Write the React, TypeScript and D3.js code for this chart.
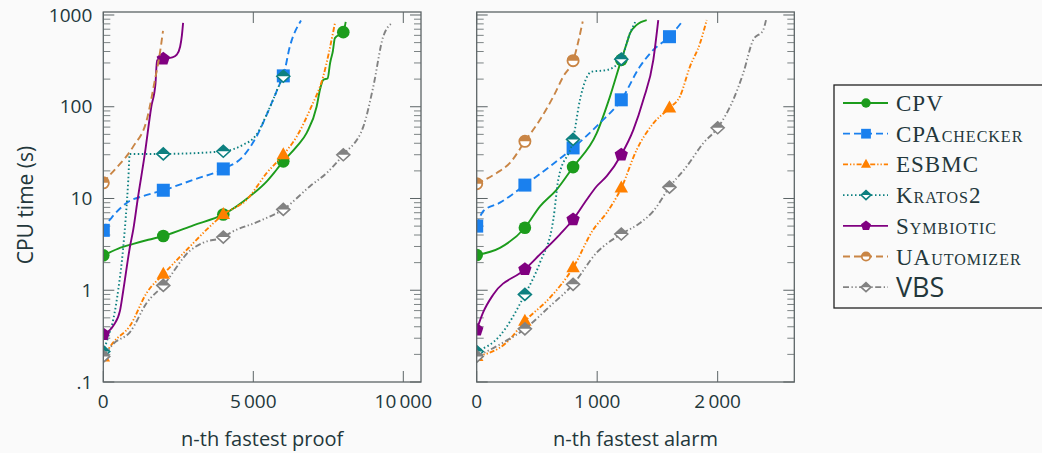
import React from 'react'
import * as d3 from 'd3'

type Pt = [number, number]

// n-th fastest proof (left panel): [n, CPU time in s]
const proofCPV: Pt[] = [[0, 2.4], [500, 2.85], [1000, 3.2], [1500, 3.55], [2000, 3.9], [3000, 5.1], [4000, 6.7], [4890, 10.6], [5450, 15.4], [5780, 20.7], [6000, 25.4], [6450, 37], [6780, 52], [7110, 100], [7220, 152], [7330, 196], [7480, 205], [7560, 300], [7650, 400], [7720, 560], [8000, 650], [8080, 840]]
const proofCPAchecker: Pt[] = [[0, 4.5], [100, 5.2], [280, 6.2], [790, 9], [1400, 10.8], [2000, 12.3], [3000, 16], [4000, 21], [4670, 29], [5110, 47.5], [5560, 100], [5890, 180], [6000, 217], [6220, 455], [6590, 870]]
const proofESBMC: Pt[] = [[0, 0.187], [333, 0.27], [890, 0.41], [1450, 0.94], [2000, 1.49], [2890, 3.0], [3450, 4.6], [4000, 6.7], [4780, 9.7], [5450, 19], [6000, 30], [6450, 47.5], [6890, 93], [7330, 214], [7720, 810]]
const proofKratos2: Pt[] = [[0, 0.215], [150, 0.3], [333, 0.48], [500, 1.02], [667, 3.0], [833, 16], [880, 30.5], [2000, 30.6], [4000, 32.7], [4670, 38.6], [5060, 47.5], [5560, 100], [5890, 180], [6000, 215]]
const proofSymbiotic: Pt[] = [[0, 0.33], [333, 0.41], [557, 0.6], [667, 1.0], [890, 3.0], [1000, 4.6], [1150, 10], [1380, 30], [1600, 100], [1740, 180], [1790, 320], [2000, 333], [2300, 345], [2450, 370], [2560, 450], [2620, 600], [2660, 820]]
const proofUAutomizer: Pt[] = [[0, 14.8], [150, 17], [333, 19.8], [1000, 37], [1450, 72], [1720, 196], [1870, 355], [1990, 670]]
const proofVBS: Pt[] = [[0, 0.19], [333, 0.26], [890, 0.35], [1450, 0.73], [2000, 1.13], [2890, 2.7], [3330, 3.3], [4000, 3.8], [4220, 4.2], [5220, 5.7], [6000, 7.6], [6890, 13.6], [7450, 19], [8000, 30], [8670, 61], [9000, 166], [9330, 580], [9650, 830]]

// n-th fastest alarm (right panel)
const alarmCPV: Pt[] = [[0, 2.42], [193, 2.9], [400, 4.8], [525, 8.2], [664, 12.5], [800, 22], [996, 51.6], [1106, 129], [1200, 324], [1245, 490], [1272, 630], [1328, 780], [1411, 880]]
const alarmCPAchecker: Pt[] = [[0, 5.0], [55, 7.3], [193, 9], [400, 14], [608, 22.4], [800, 35.6], [1023, 66.6], [1200, 119], [1355, 274], [1466, 417], [1600, 580], [1715, 880]]
const alarmESBMC: Pt[] = [[0, 0.19], [249, 0.27], [400, 0.46], [608, 0.83], [800, 1.76], [968, 4.6], [1079, 7], [1200, 13], [1328, 34], [1466, 66], [1600, 97], [1687, 130], [1770, 274], [1853, 490], [1909, 880]]
const alarmKratos2: Pt[] = [[0, 0.215], [193, 0.32], [400, 0.9], [525, 2.0], [636, 5.9], [677, 16], [800, 44], [857, 119], [954, 241], [1079, 251], [1162, 287], [1200, 330], [1272, 630], [1322, 870]]
const alarmSymbiotic: Pt[] = [[0, 0.37], [55, 0.58], [138, 0.9], [400, 1.69], [525, 2.46], [691, 4.07], [800, 5.9], [913, 9.7], [996, 13.6], [1079, 17.5], [1200, 30], [1300, 56], [1383, 119], [1466, 324], [1507, 880]]
const alarmUAutomizer: Pt[] = [[0, 14.5], [166, 19], [276, 24.4], [400, 42], [525, 72], [636, 129], [719, 214], [800, 318], [880, 850]]
const alarmVBS: Pt[] = [[0, 0.19], [200, 0.26], [400, 0.38], [608, 0.67], [800, 1.16], [996, 2.57], [1200, 4.1], [1355, 5.4], [1466, 7.3], [1600, 13.3], [1743, 22.4], [1880, 40], [2000, 59], [2129, 119], [2212, 232], [2295, 535], [2378, 686], [2401, 880]]

const proofSeries = [proofCPV, proofCPAchecker, proofESBMC, proofKratos2, proofSymbiotic, proofUAutomizer, proofVBS]
const alarmSeries = [alarmCPV, alarmCPAchecker, alarmESBMC, alarmKratos2, alarmSymbiotic, alarmUAutomizer, alarmVBS]

const solverNames = ['CPV', 'CPAchecker', 'ESBMC', 'Kratos2', 'Symbiotic', 'UAutomizer', 'VBS']

const yTicks = [0.1, 1, 10, 100, 1000]
const yTickLabels = ['.1', '1', '10', '100', '1000']
const proofTicks = [0, 5000, 10000]
const proofTickLabels = ['0', '5\u2009000', '10\u2009000']
const alarmTicks = [0, 1000, 2000]
const alarmTickLabels = ['0', '1\u2009000', '2\u2009000']

const styles = [
    {color: '#1c9c1c', dash: '', mark: 'circle'},
    {color: '#1a80ee', dash: '7,4', mark: 'square'},
    {color: '#ff8000', dash: '5,2,1.3,2,1.3,2', mark: 'triangle'},
    {color: '#0d8080', dash: '1.5,2.5', mark: 'diamond'},
    {color: '#800080', dash: '', mark: 'pentagon'},
    {color: '#c98545', dash: '7,4', mark: 'halfcircle'},
    {color: '#828282', dash: '6,2.5,1.3,2.5,1.3,2.5', mark: 'diamond'},
]

const bg = '#fafafa'
const textColor = '#23373b'
const axisColor = '#5c6466'
const sans = '"Open Sans", "DejaVu Sans", sans-serif'

const W = 1042
const H = 453
const top = 12
const bottom = 382

const yScale = d3.scaleLog().domain([0.1, 1078]).range([bottom, top])

const minorTicks: number[] = []
for (const d of [0.1, 1, 10, 100, 1000]) {
    for (let m = 2; m <= 9; m++) if (d * m < 1078) minorTicks.push(d * m)
}

const Marker = ({type, x, y, color, s = 1}: {type: string, x: number, y: number, color: string, s?: number}) => {
    if (type === 'circle') return <circle cx={x} cy={y} r={6.3 * s} fill={color} />
    if (type === 'square') return <rect x={x - 6.5 * s} y={y - 6.5 * s} width={13 * s} height={13 * s} fill={color} />
    if (type === 'triangle') {
        const r = 7.5 * s
        return <path d={`M${x},${y - r}L${x + r * 0.9},${y + r * 0.6}L${x - r * 0.9},${y + r * 0.6}Z`} fill={color} />
    }
    if (type === 'pentagon') {
        const r = 7 * s
        const pts = d3.range(5).map(i => {
            const a = -Math.PI / 2 + i * 2 * Math.PI / 5
            return `${x + r * Math.cos(a)},${y + r * Math.sin(a)}`
        })
        return <path d={`M${pts.join('L')}Z`} fill={color} />
    }
    if (type === 'diamond') {
        const rx = 6.5 * s, ry = 6 * s
        return (
            <g>
                <path d={`M${x - rx},${y}L${x},${y - ry}L${x + rx},${y}L${x},${y + ry}Z`} fill="white" stroke={color} strokeWidth={1.6} />
                <path d={`M${x - rx},${y}L${x},${y - ry}L${x + rx},${y}Z`} fill={color} />
            </g>
        )
    }
    // half filled circle
    const r = 5.6 * s
    return (
        <g>
            <circle cx={x} cy={y} r={r} fill="white" stroke={color} strokeWidth={1.8} />
            <path d={`M${x - r},${y}A${r},${r} 0 0 1 ${x + r},${y}Z`} fill={color} />
        </g>
    )
}

const Panel = ({id, left, right, xMax, series, ticks, tickLabels, markEvery, title, showY}: any) => {
    const xScale = d3.scaleLinear().domain([0, xMax]).range([left, right])
    const line = d3.line<Pt>()
        .x(d => xScale(d[0]))
        .y(d => yScale(d[1]))
        .curve(d3.curveMonotoneX)

    return (
        <g>
            <defs>
                <clipPath id={id}>
                    <rect x={left} y={top} width={right - left} height={bottom - top} />
                </clipPath>
            </defs>

            {/* ticks on all four sides, pointing inward */}
            {yTicks.map(t => (
                <g key={'y' + t} stroke={axisColor} strokeWidth={1}>
                    <line x1={left} x2={left + 11} y1={yScale(t)} y2={yScale(t)} />
                    <line x1={right} x2={right - 11} y1={yScale(t)} y2={yScale(t)} />
                </g>
            ))}
            {minorTicks.map(t => (
                <g key={'m' + t} stroke={axisColor} strokeWidth={0.8}>
                    <line x1={left} x2={left + 7} y1={yScale(t)} y2={yScale(t)} />
                    <line x1={right} x2={right - 7} y1={yScale(t)} y2={yScale(t)} />
                </g>
            ))}
            {ticks.map((t: number) => (
                <g key={'x' + t} stroke={axisColor} strokeWidth={1}>
                    <line x1={xScale(t)} x2={xScale(t)} y1={bottom} y2={bottom - 11} />
                    <line x1={xScale(t)} x2={xScale(t)} y1={top} y2={top + 11} />
                </g>
            ))}

            <g clipPath={`url(#${id})`}>
                {series.map((data: Pt[], i: number) => (
                    <g key={i}>
                        <path d={line(data) || ''} fill="none" stroke={styles[i].color}
                            strokeWidth={1.9} strokeDasharray={styles[i].dash} />
                        {data.filter(d => d[0] % markEvery === 0).map(d => (
                            <Marker key={d[0]} type={styles[i].mark} x={xScale(d[0])} y={yScale(d[1])} color={styles[i].color} />
                        ))}
                    </g>
                ))}
            </g>

            <rect x={left} y={top} width={right - left} height={bottom - top} fill="none" stroke={axisColor} strokeWidth={1.3} />

            {ticks.map((t: number, i: number) => (
                <text key={'xl' + t} x={xScale(t)} y={408} textAnchor="middle" fontSize={19}
                    fontFamily={sans} fill={textColor}>{tickLabels[i]}</text>
            ))}
            {showY && yTicks.map((t, i) => (
                <text key={'yl' + t} x={left - 11} y={yScale(t)} dy="0.35em" textAnchor="end" fontSize={19}
                    fontFamily={sans} fill={textColor}>{yTickLabels[i]}</text>
            ))}
            <text x={(left + right) / 2} y={446} textAnchor="middle" fontSize={20}
                fontFamily={sans} fill={textColor}>{title}</text>
        </g>
    )
}

const Legend = () => {
    const x0 = 834, y0 = 85
    return (
        <g>
            <rect x={x0} y={y0} width={240} height={223} fill={bg} stroke="#222" strokeWidth={1.3} />
            {solverNames.map((name, i) => {
                const y = 103 + i * 30.7
                const st = styles[i]
                return (
                    <g key={name}>
                        <line x1={843} x2={888} y1={y} y2={y} stroke={st.color} strokeWidth={1.8} strokeDasharray={st.dash} />
                        <Marker type={st.mark} x={866} y={y} color={st.color} s={0.75} />
                        {name === 'VBS'
                            ? <text x={896} y={y} dy="0.36em" fontSize={27} fontFamily={sans} fill={textColor}>{name}</text>
                            : <text x={896} y={y} dy="0.35em" fontSize={23} fontFamily='"Liberation Serif", "DejaVu Serif", serif'
                                style={{fontVariant: 'small-caps', letterSpacing: '1px'}} fill={textColor}>{name}</text>}
                    </g>
                )
            })}
        </g>
    )
}

export default function App() {
    return (
        <svg width={W} height={H} style={{position: 'absolute', left: 0, top: 0}}>
            <rect x={0} y={0} width={W} height={H} fill={bg} />
            <Panel id="clipProof" left={103.3} right={421} xMax={10590} series={proofSeries}
                ticks={proofTicks} tickLabels={proofTickLabels} markEvery={2000} title="n-th fastest proof" showY />
            <Panel id="clipAlarm" left={476.7} right={794.3} xMax={2636} series={alarmSeries}
                ticks={alarmTicks} tickLabels={alarmTickLabels} markEvery={400} title="n-th fastest alarm" showY={false} />
            <text transform="translate(33,205) rotate(-90)" textAnchor="middle" fontSize={21}
                fontFamily={sans} fill={textColor}>CPU time (s)</text>
            <Legend />
        </svg>
    )
}
